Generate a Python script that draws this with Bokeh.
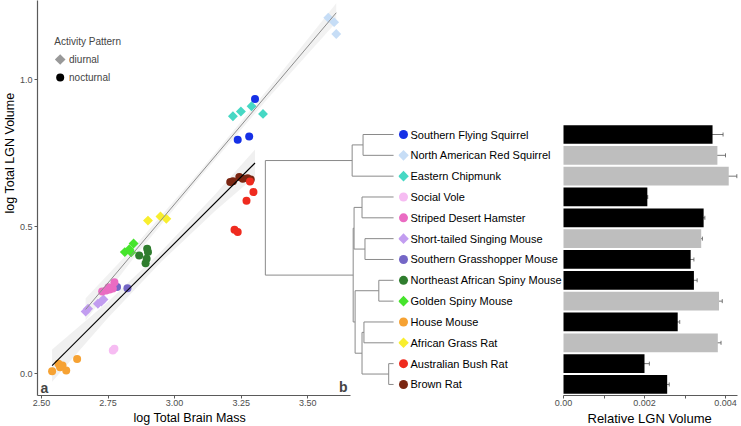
from math import pi
from bokeh.plotting import figure
from bokeh.layouts import row
from bokeh.models import (Range1d, FixedTicker, ColumnDataSource, Whisker, TeeHead, Label,
                          Title, PrintfTickFormatter)
from bokeh.embed import file_html
from bokeh.resources import INLINE
from bokeh.core.properties import value

FONT = "Liberation Sans"

# ---------------- data ----------------
species = [
    "Southern Flying Squirrel", "North American Red Squirrel", "Eastern Chipmunk",
    "Social Vole", "Striped Desert Hamster", "Short-tailed Singing Mouse",
    "Southern Grasshopper Mouse", "Northeast African Spiny Mouse", "Golden Spiny Mouse",
    "House Mouse", "African Grass Rat", "Australian Bush Rat", "Brown Rat",
]
activity = ["nocturnal", "diurnal", "diurnal", "nocturnal", "nocturnal", "diurnal",
            "nocturnal", "nocturnal", "diurnal", "nocturnal", "diurnal", "nocturnal", "nocturnal"]
species_colors = ["#1630E6", "#C6DDF6", "#46D8C4", "#F6BCF2", "#EA6BC2", "#C29DF0",
                  "#7466C6", "#2F7D2E", "#46E42C", "#F6A233", "#F8EE2E", "#EF2B1F", "#7A2612"]

# relative LGN volume (panel b bars) with error
rel_lgn = [0.00368, 0.00380, 0.00408, 0.00207, 0.00346, 0.00340, 0.00314,
           0.00322, 0.00384, 0.00282, 0.00381, 0.00200, 0.00256]
rel_lgn_se = [0.00026, 0.00020, 0.00020, 0.00001, 0.00003, 0.00003, 0.00008,
              0.00008, 0.00008, 0.00005, 0.00008, 0.00012, 0.00005]

# log brain mass / log LGN volume per individual (panel a)
sfs_brain = [3.302, 3.237, 3.280]
sfs_lgn = [0.934, 0.795, 0.806]
nars_brain = [3.577, 3.599, 3.607]
nars_lgn = [1.210, 1.195, 1.155]
ec_brain = [3.219, 3.249, 3.289, 3.332]
ec_lgn = [0.875, 0.891, 0.909, 0.883]
sv_brain = [2.768, 2.774]
sv_lgn = [0.078, 0.084]
sdh_brain = [2.728, 2.743, 2.756, 2.768, 2.774, 2.752]
sdh_lgn = [0.279, 0.282, 0.286, 0.289, 0.310, 0.293]
stsm_brain = [2.666, 2.675, 2.712, 2.725, 2.733]
stsm_lgn = [0.211, 0.220, 0.237, 0.245, 0.252]
sgm_brain = [2.784, 2.823]
sgm_lgn = [0.294, 0.290]
neasm_brain = [2.867, 2.897, 2.900, 2.895, 2.891]
neasm_lgn = [0.401, 0.424, 0.413, 0.390, 0.375]
gsm_brain = [2.813, 2.830, 2.846, 2.837]
gsm_lgn = [0.413, 0.423, 0.442, 0.412]
hm_brain = [2.540, 2.564, 2.570, 2.579, 2.593, 2.634]
hm_lgn = [0.008, 0.033, 0.021, 0.027, 0.010, 0.049]
agr_brain = [2.900, 2.947, 2.969]
agr_lgn = [0.520, 0.534, 0.526]
abr_brain = [3.225, 3.237, 3.270, 3.296, 3.283]
abr_lgn = [0.489, 0.481, 0.588, 0.617, 0.653]
br_brain = [3.209, 3.219, 3.243, 3.256, 3.274, 3.286]
br_lgn = [0.651, 0.654, 0.668, 0.662, 0.664, 0.660]

scatter_sets = [(sfs_brain, sfs_lgn), (nars_brain, nars_lgn), (ec_brain, ec_lgn),
                (sv_brain, sv_lgn), (sdh_brain, sdh_lgn), (stsm_brain, stsm_lgn),
                (sgm_brain, sgm_lgn), (neasm_brain, neasm_lgn), (gsm_brain, gsm_lgn),
                (hm_brain, hm_lgn), (agr_brain, agr_lgn), (abr_brain, abr_lgn),
                (br_brain, br_lgn)]

# fitted lines and confidence bands
fit_diurnal_x = [2.666, 3.607]
fit_diurnal_y = [0.218, 1.227]
band_diurnal_x = [2.666, 2.85, 3.10, 3.35, 3.607]
band_diurnal_lo = [0.180, 0.397, 0.672, 0.935, 1.195]
band_diurnal_hi = [0.256, 0.433, 0.694, 0.967, 1.259]
fit_nocturnal_x = [2.540, 3.302]
fit_nocturnal_y = [0.027, 0.716]
band_nocturnal_x = [2.540, 2.75, 2.95, 3.15, 3.302]
band_nocturnal_lo = [-0.028, 0.190, 0.380, 0.551, 0.670]
band_nocturnal_hi = [0.082, 0.244, 0.416, 0.607, 0.762]

# phylogeny (internal nodes, depth from root; tips at depth 1)
tree_nodes = ["root", "Sciuridae", "Glaucomys+Tamiasciurus", "Muroidea", "Cricetidae",
              "Microtus+Phodopus", "Scotinomys+Onychomys", "Muridae", "Acomys", "Murinae",
              "Mus+Arvicanthis", "Rattus"]
tree_children = [
    ["Sciuridae", "Muroidea"],
    ["Glaucomys+Tamiasciurus", "Eastern Chipmunk"],
    ["Southern Flying Squirrel", "North American Red Squirrel"],
    ["Cricetidae", "Muridae"],
    ["Microtus+Phodopus", "Scotinomys+Onychomys"],
    ["Social Vole", "Striped Desert Hamster"],
    ["Short-tailed Singing Mouse", "Southern Grasshopper Mouse"],
    ["Acomys", "Murinae"],
    ["Northeast African Spiny Mouse", "Golden Spiny Mouse"],
    ["Mus+Arvicanthis", "Rattus"],
    ["House Mouse", "African Grass Rat"],
    ["Australian Bush Rat", "Brown Rat"],
]
tree_depth = [0.0, 0.677, 0.762, 0.685, 0.692, 0.754, 0.777, 0.700, 0.885, 0.754, 0.769, 0.962]
tip_depth = 1.0

brain_ticks = [2.50, 2.75, 3.00, 3.25, 3.50]
lgn_ticks = [0.0, 0.5, 1.0]
rel_ticks = [0.0, 0.002, 0.004]
rel_minor_ticks = [0.001, 0.003]

# ---------------- layout geometry (page pixels) ----------------
W1, W2, H = 398, 343, 426
PX_LEFT, PX_SPLIT, PX_RIGHT = 32, 398, 741
PX_TOP, PX_BOTTOM = 0, 395
ROW0, ROW_STEP = 134.0, 20.83
BRAIN0, BRAIN_PX0, BRAIN_SCALE = 2.50, 36.0, 270.0
LGN_PX0, LGN_SCALE = 373.0, 294.0
TREE_ROOT_PX, TREE_TIP_PX = 263.0, 393.0
BAR0_PX, BAR_SCALE = 563.0, 40500.0

x_start = BRAIN0 + (PX_LEFT - BRAIN_PX0) / BRAIN_SCALE
x_end = BRAIN0 + (PX_SPLIT - BRAIN_PX0) / BRAIN_SCALE
y_start = (LGN_PX0 - PX_BOTTOM) / LGN_SCALE
y_end = (LGN_PX0 - PX_TOP) / LGN_SCALE
row_bottom = (PX_BOTTOM - ROW0) / ROW_STEP
row_top = (PX_TOP - ROW0) / ROW_STEP
tscale = TREE_TIP_PX - TREE_ROOT_PX
tx_start = (PX_LEFT - TREE_ROOT_PX) / tscale
tx_end = (PX_SPLIT - TREE_ROOT_PX) / tscale
bx_start = (PX_SPLIT - BAR0_PX) / BAR_SCALE
bx_end = (PX_RIGHT - BAR0_PX) / BAR_SCALE

AXIS_COLOR = "#5a5a5a"
TICK_LABEL_COLOR = "#4D4D4D"


def style_axis(ax):
    ax.axis_line_color = AXIS_COLOR
    ax.axis_line_width = 1.2
    ax.major_tick_line_color = AXIS_COLOR
    ax.major_tick_out = 3
    ax.major_tick_in = 0
    ax.minor_tick_line_color = None
    ax.major_label_text_font = FONT
    ax.major_label_text_font_size = "9px"
    ax.major_label_text_color = TICK_LABEL_COLOR
    ax.major_label_standoff = 1


def axis_title(text, offset, size):
    return Title(text=text, align="left", offset=offset, standoff=0,
                 text_font=FONT, text_font_size=size, text_font_style="normal",
                 text_color="#000000")


# ---------------- figure 1: scatter + tree ----------------
p1 = figure(width=W1, height=H, x_range=Range1d(x_start, x_end), y_range=Range1d(y_start, y_end),
            output_backend="svg", toolbar_location=None,
            min_border_left=PX_LEFT, min_border_right=0, min_border_top=0,
            min_border_bottom=H - PX_BOTTOM)
p1.extra_x_ranges = {"px": Range1d(PX_LEFT, PX_SPLIT), "tx": Range1d(tx_start, tx_end)}
p1.extra_y_ranges = {"py": Range1d(PX_BOTTOM, PX_TOP), "ty": Range1d(row_bottom, row_top)}
p1.outline_line_color = None
p1.xgrid.visible = False
p1.ygrid.visible = False
p1.xaxis.ticker = FixedTicker(ticks=brain_ticks)
p1.xaxis.formatter = PrintfTickFormatter(format="%.2f")
p1.xaxis.bounds = (x_start, 3.659)
p1.yaxis.ticker = FixedTicker(ticks=lgn_ticks)
p1.yaxis.formatter = PrintfTickFormatter(format="%.1f")
style_axis(p1.xaxis[0])
style_axis(p1.yaxis[0])
p1.yaxis.major_label_standoff = 2
p1.add_layout(axis_title("log Total Brain Mass", 134 - PX_LEFT - 6, "12.5px"), "below")
p1.add_layout(axis_title("log Total LGN Volume", PX_BOTTOM - 213, "12.5px"), "left")

# confidence bands
p1.varea(x=band_nocturnal_x, y1=band_nocturnal_lo, y2=band_nocturnal_hi,
         fill_color="#999999", fill_alpha=0.15)
p1.varea(x=band_diurnal_x, y1=band_diurnal_lo, y2=band_diurnal_hi,
         fill_color="#999999", fill_alpha=0.13)

# points
for i in reversed(range(len(species))):
    bx, ly = scatter_sets[i]
    if activity[i] == "diurnal":
        p1.scatter(bx, ly, marker="square", angle=pi / 4, size=7, fill_color=species_colors[i],
                   line_color=None)
    else:
        p1.scatter(bx, ly, marker="circle", size=8, fill_color=species_colors[i], line_color=None)

# regression lines
p1.line(fit_diurnal_x, fit_diurnal_y, line_color="#8c8c8c", line_width=1)
p1.line(fit_nocturnal_x, fit_nocturnal_y, line_color="#000000", line_width=1.1)

# legend (ggplot style)
p1.add_layout(Label(x=49, y=41, x_range_name="px", y_range_name="py", text="Activity Pattern",
                    text_font=FONT, text_font_size="10px", text_baseline="middle"))
p1.scatter([55], [59], marker="square", angle=pi / 4, size=7.5, fill_color="#999999",
           line_color=None, x_range_name="px", y_range_name="py")
p1.scatter([55], [77], marker="circle", size=8, fill_color="#000000",
           line_color=None, x_range_name="px", y_range_name="py")
for lab, yy in zip(["diurnal", "nocturnal"], [59, 77]):
    p1.add_layout(Label(x=64, y=yy, x_range_name="px", y_range_name="py", text=lab,
                        text_font=FONT, text_font_size="10px", text_baseline="middle"))

# panel letters
p1.add_layout(Label(x=39, y=387, x_range_name="px", y_range_name="py", text="a",
                    text_font=FONT, text_font_size="14px", text_font_style="bold",
                    text_align="center", text_baseline="middle"))
p1.add_layout(Label(x=342, y=386, x_range_name="px", y_range_name="py", text="b",
                    text_font=FONT, text_font_size="14px", text_font_style="bold",
                    text_align="center", text_baseline="middle"))

# phylogeny
depth = dict(zip(tree_nodes, tree_depth))
for s in species:
    depth[s] = tip_depth
ypos = {s: float(i) for i, s in enumerate(species)}
children = dict(zip(tree_nodes, tree_children))


def node_y(n):
    if n not in ypos:
        kids = children[n]
        ypos[n] = sum(node_y(k) for k in kids) / len(kids)
    return ypos[n]


node_y("root")
sx0, sy0, sx1, sy1 = [], [], [], []
for n in tree_nodes:
    kids = children[n]
    ys = [ypos[k] for k in kids]
    sx0.append(depth[n]); sx1.append(depth[n]); sy0.append(min(ys)); sy1.append(max(ys))
    for k in kids:
        sx0.append(depth[n]); sx1.append(depth[k]); sy0.append(ypos[k]); sy1.append(ypos[k])
p1.segment(sx0, sy0, sx1, sy1, x_range_name="tx", y_range_name="ty",
           line_color="#8a8a8a", line_width=1)

# ---------------- figure 2: tip labels + bars ----------------
p2 = figure(width=W2, height=H, x_range=Range1d(bx_start, bx_end),
            y_range=Range1d(row_bottom, row_top), y_axis_location=None,
            output_backend="svg", toolbar_location=None,
            min_border_left=0, min_border_right=0, min_border_top=0,
            min_border_bottom=H - PX_BOTTOM)
p2.extra_x_ranges = {"px": Range1d(PX_SPLIT, PX_RIGHT)}
p2.outline_line_color = None
p2.xgrid.visible = False
p2.ygrid.visible = False

rows = list(range(len(species)))
bar_colors = ["#BEBEBE" if a == "diurnal" else "#000000" for a in activity]
src = ColumnDataSource(dict(
    row=rows, val=rel_lgn, color=bar_colors,
    lo=[v - e for v, e in zip(rel_lgn, rel_lgn_se)],
    hi=[v + e for v, e in zip(rel_lgn, rel_lgn_se)],
))
p2.hbar(y="row", left=0, right="val", height=0.9, fill_color="color", line_color=None, source=src)
p2.add_layout(Whisker(source=src, base="row", lower="lo", upper="hi", dimension="width",
                      line_color="#555555", line_width=0.8,
                      upper_head=TeeHead(size=4, line_color="#555555", line_width=0.8),
                      lower_head=TeeHead(size=4, line_color="#555555", line_width=0.8)))

# tip markers and labels
noc = [i for i in rows if activity[i] == "nocturnal"]
diu = [i for i in rows if activity[i] == "diurnal"]
p2.scatter([403] * len(noc), noc, marker="circle", size=9,
           fill_color=[species_colors[i] for i in noc], line_color=None, x_range_name="px")
p2.scatter([403] * len(diu), diu, marker="square", angle=pi / 4, size=7.5,
           fill_color=[species_colors[i] for i in diu], line_color=None, x_range_name="px")
p2.text(x=[410] * len(species), y=rows, text=species, x_range_name="px",
        text_font=value(FONT), text_font_size="11px", text_color="#000000",
        text_baseline="middle", text_align="left")

p2.xaxis.ticker = FixedTicker(ticks=rel_ticks, minor_ticks=rel_minor_ticks)
p2.xaxis.bounds = (0, 0.0043)
p2.xaxis.major_label_overrides = {0: "0.00"}
style_axis(p2.xaxis[0])
p2.xaxis.axis_line_width = 1
p2.xaxis.minor_tick_line_color = AXIS_COLOR
p2.xaxis.minor_tick_out = 3
p2.xaxis.minor_tick_in = 0
p2.add_layout(axis_title("Relative LGN Volume", 587 - PX_SPLIT, "13px"), "below")

layout = row(p1, p2, spacing=0)
open("out.html", "w").write(file_html(layout, INLINE))
